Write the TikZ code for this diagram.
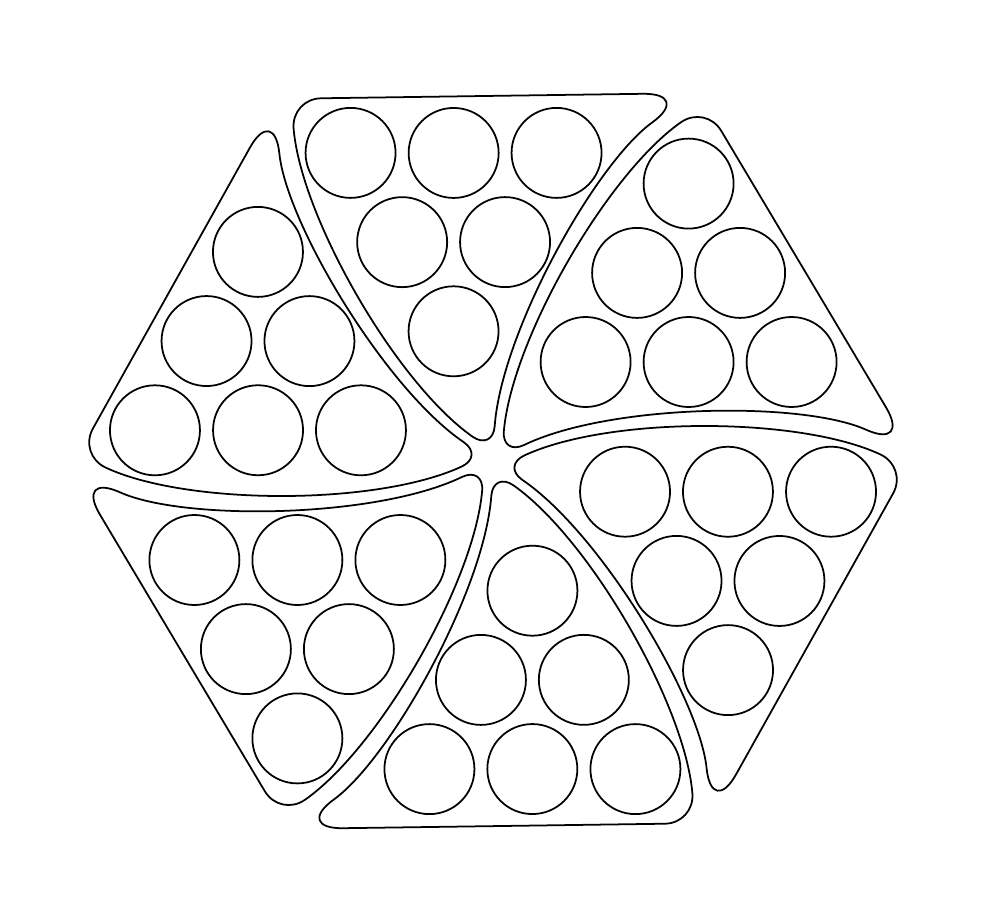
\documentclass[tikz,border=0pt]{standalone}
\begin{document}
\begin{tikzpicture}[line width=0.5pt,
        piece/.style={draw,line join=round},
        hole/.style={circle,draw,minimum size=0.9cm,inner sep=0pt}]

        \useasboundingbox (-4.93,-4.48) rectangle (5.00,4.61);

        \foreach \k in {0,...,5} {
          \begin{scope}[rotate=60*\k+0.8]
            \draw[piece,shift={(30:0.1)}]
              (30:3.551) [rounded corners=0.3cm] -- (59:4.06)
              [rounded corners=0.25cm] to[out=214,in=84,looseness=0.75] (0,0)
              [rounded corners=0.5cm] to[out=25,in=155,looseness=0.75] (0:4.1)
              -- (30:3.551);
          \end{scope}
          \begin{scope}[rotate=60*\k,shift={(39:2.517)}]
            \foreach \x/\y [count=\i] in {-1.03/-0.594,0/-0.594,1.03/-0.594,
                                          -0.515/0.297,0.515/0.297,0/1.19}
              \node[hole] (hole-\k-\i) at (\x,\y) {};
          \end{scope}
        }
      \end{tikzpicture}
\end{document}
